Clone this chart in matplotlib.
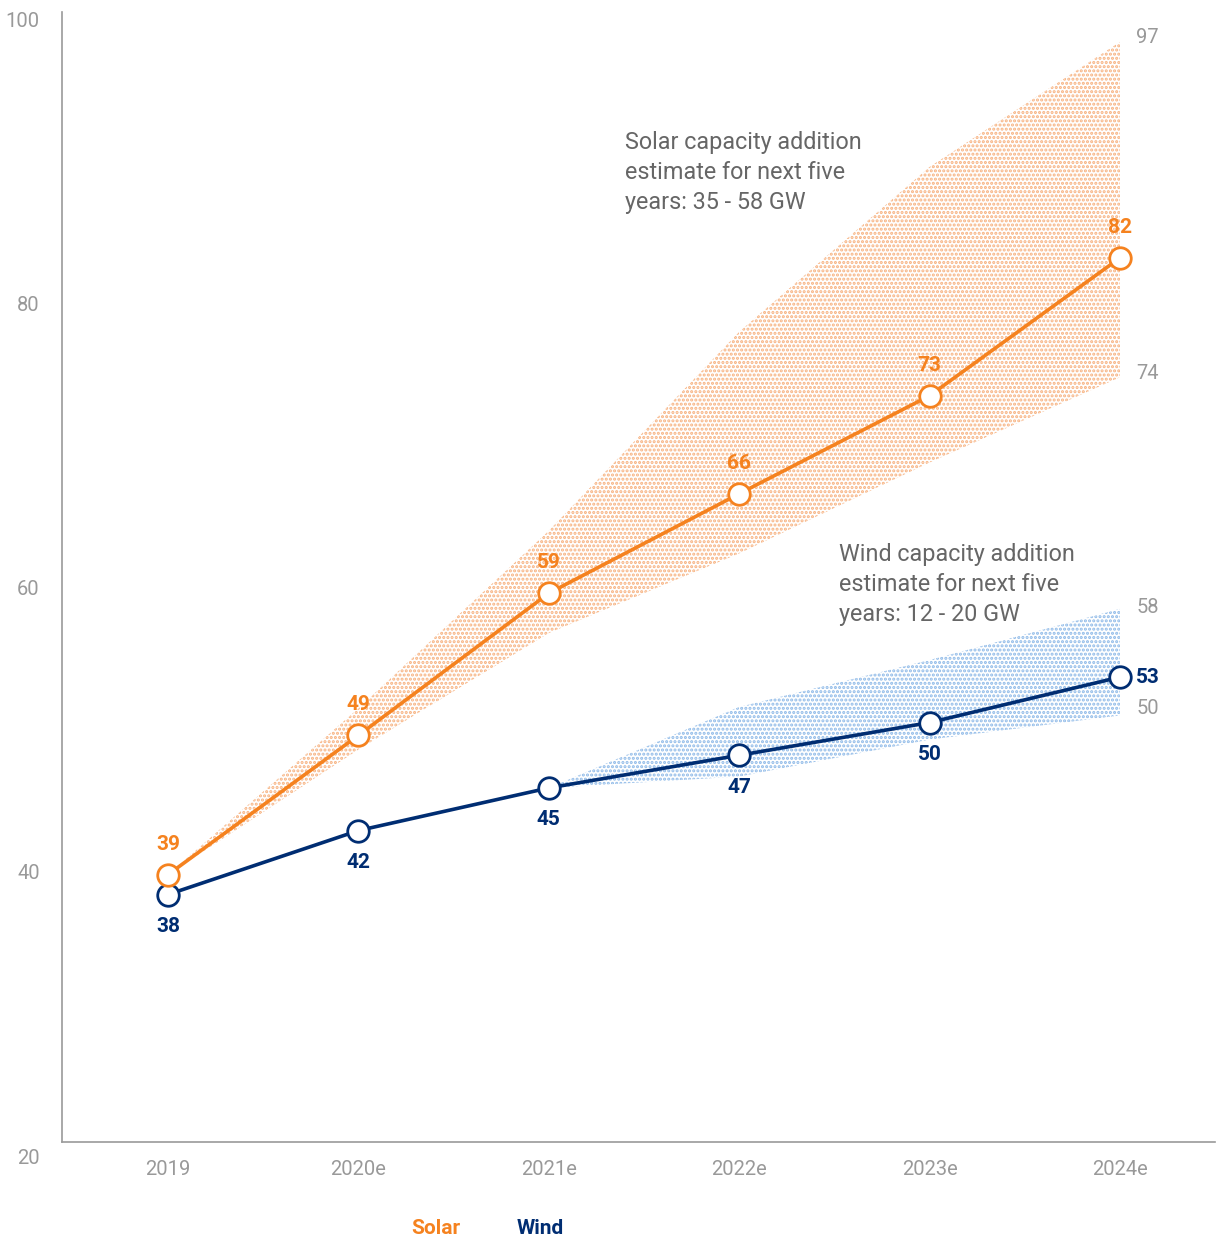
import matplotlib
matplotlib.use("Agg")
import matplotlib.pyplot as plt

plt.rcParams['font.family'] = ['Roboto', 'DejaVu Sans']
plt.rcParams['hatch.linewidth'] = 1.5

# ---- data ----
years = ["2019", "2020e", "2021e", "2022e", "2023e", "2024e"]
solar = [39.8, 49.6, 59.6, 66.6, 73.5, 83.2]
wind = [38.4, 42.9, 45.9, 48.2, 50.5, 53.7]
solar_labels = ["39", "49", "59", "66", "73", "82"]
wind_labels = ["38", "42", "45", "47", "50", "53"]

solar_band_x = [0, 1, 2, 3, 4, 5]
solar_band_hi = [39.8, 51.5, 64.0, 78.0, 89.6, 98.4]
solar_band_lo = [39.8, 48.6, 56.8, 62.4, 68.8, 74.8]
solar_band_labels = ["97", "74"]

wind_band_x = [2, 3, 4, 5]
wind_band_hi = [45.9, 51.6, 54.9, 58.5]
wind_band_lo = [45.9, 46.7, 49.3, 51.0]
wind_band_labels = ["58", "50"]

y_ticks = [20, 40, 60, 80, 100]
solar_note = "Solar capacity addition\nestimate for next five\nyears: 35 - 58 GW"
wind_note = "Wind capacity addition\nestimate for next five\nyears: 12 - 20 GW"

# ---- style ----
ORANGE = "#F5821F"
NAVY = "#002D72"
ORANGE_DOT = "#F7B280"
BLUE_DOT = "#8FBAE8"
GREY = "#999999"
NOTE_GREY = "#666666"

W, H = 1219, 1239
fig = plt.figure(figsize=(W / 100, H / 100), dpi=100)
ax = fig.add_axes([62 / W, (H - 1156) / H, (1215 - 62) / W, (1156 - 12) / H])

x = list(range(len(years)))
ax.set_xlim(-0.557, 5.499)
ax.set_ylim(20, 100.5)

# bands
ax.fill_between(solar_band_x, solar_band_lo, solar_band_hi, facecolor="none",
                edgecolor=ORANGE_DOT, linewidth=0, hatch="....", zorder=1)
ax.fill_between(wind_band_x, wind_band_lo, wind_band_hi, facecolor="none",
                edgecolor=BLUE_DOT, linewidth=0, hatch="....", zorder=1)

# lines
ax.plot(x, wind, color=NAVY, lw=2.6, marker="o", ms=15.5, mfc="white",
        mec=NAVY, mew=2.0, zorder=3)
ax.plot(x, solar, color=ORANGE, lw=2.6, marker="o", ms=15.5, mfc="white",
        mec=ORANGE, mew=2.0, zorder=4)

LBL = 15
# data labels
for i, (v, lab) in enumerate(zip(solar, solar_labels)):
    ax.annotate(lab, (i, v), xytext=(0, 22), textcoords="offset points",
                ha="center", va="center", color=ORANGE, fontsize=LBL,
                fontweight="bold", zorder=5)
for i, (v, lab) in enumerate(zip(wind, wind_labels)):
    if i == len(wind) - 1:
        ax.annotate(lab, (i, v), xytext=(20, 0), textcoords="offset points",
                    ha="center", va="center", color=NAVY, fontsize=LBL,
                    fontweight="bold", zorder=5)
    else:
        ax.annotate(lab, (i, v), xytext=(0, -23), textcoords="offset points",
                    ha="center", va="center", color=NAVY, fontsize=LBL,
                    fontweight="bold", zorder=5)

# band end labels
TK = 14.5
ax.annotate(solar_band_labels[0], (5, solar_band_hi[-1]), xytext=(20, 3),
            textcoords="offset points", ha="center", va="center",
            color=GREY, fontsize=TK)
ax.annotate(solar_band_labels[1], (5, solar_band_lo[-1]), xytext=(20, 3),
            textcoords="offset points", ha="center", va="center",
            color=GREY, fontsize=TK)
ax.annotate(wind_band_labels[0], (5, wind_band_hi[-1]), xytext=(20, 1),
            textcoords="offset points", ha="center", va="center",
            color=GREY, fontsize=TK)
ax.annotate(wind_band_labels[1], (5, wind_band_lo[-1]), xytext=(20, 5),
            textcoords="offset points", ha="center", va="center",
            color=GREY, fontsize=TK)

# notes
ax.text(2.40, 89.2, solar_note, ha="left", va="center", color=NOTE_GREY,
        fontsize=16.8, linespacing=1.4)
ax.text(3.524, 60.2, wind_note, ha="left", va="center", color=NOTE_GREY,
        fontsize=16.8, linespacing=1.4)

# axes styling
for s in ["top", "right"]:
    ax.spines[s].set_visible(False)
spine_y = 100 - (1142 - 19) / 14.21
ax.spines["bottom"].set_position(("data", spine_y))
ax.spines["left"].set_bounds(spine_y, 100.5)
for s in ["bottom", "left"]:
    ax.spines[s].set_color("#9a9a9a")
    ax.spines[s].set_linewidth(1.2)

ax.set_xticks(x)
ax.set_xticklabels(years)
ax.set_yticks(y_ticks)
ax.set_yticklabels([str(t) for t in y_ticks])
ax.tick_params(axis="x", length=0, pad=13, labelsize=TK, labelcolor=GREY)
ax.tick_params(axis="y", length=0, pad=16, labelsize=TK, labelcolor=GREY)

# legend as text
fig.text(436 / W, 1 - 1229 / H, "Solar", color=ORANGE, fontsize=15,
         fontweight="bold", ha="center", va="center")
fig.text(540 / W, 1 - 1229 / H, "Wind", color=NAVY, fontsize=15,
         fontweight="bold", ha="center", va="center")

fig.savefig("out.png", dpi=100)
